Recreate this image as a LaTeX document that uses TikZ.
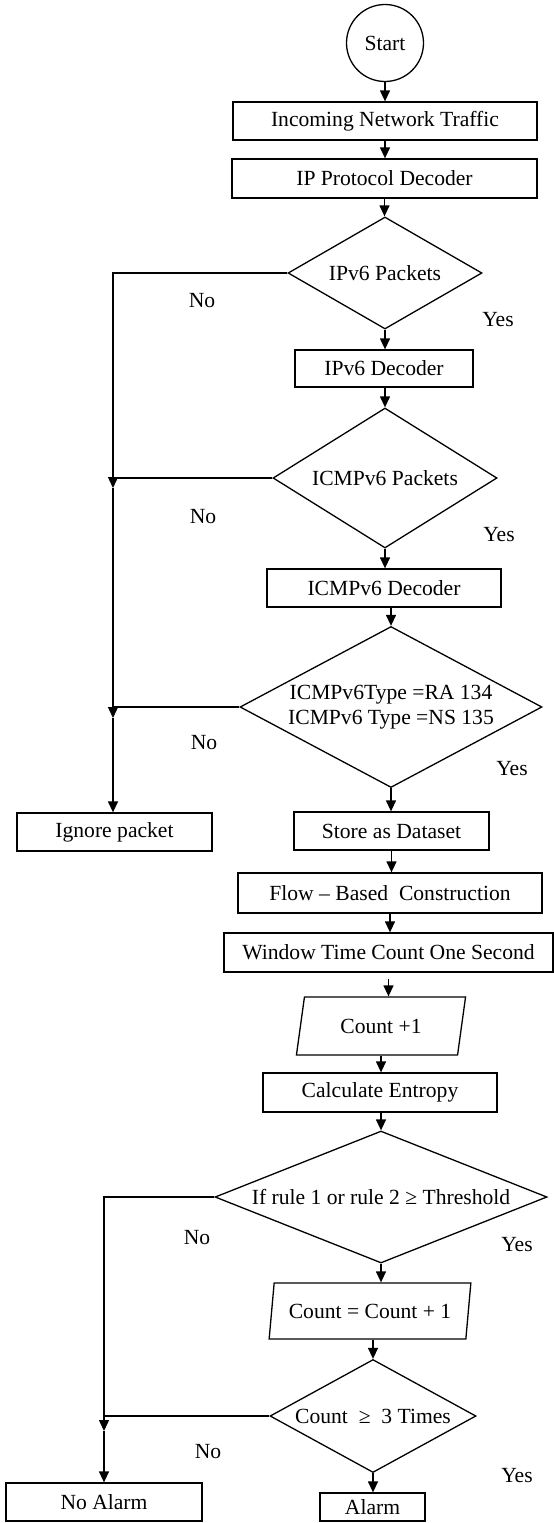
\documentclass[tikz,border=0pt]{standalone}
\usepackage{fontspec}
\setmainfont{Liberation Serif}
\usetikzlibrary{shapes.geometric,arrows.meta,calc}
\begin{document}
\begin{tikzpicture}[x=1pt,y=-1pt,
  font=\fontsize{21.6}{25}\selectfont,
  line width=1.3pt,
  arr/.style={-{Triangle[length=11pt,width=10pt]}},
  box/.style={draw, rectangle, inner sep=0pt},
  dec/.style={draw, diamond, inner sep=0pt},
  io/.style={draw, trapezium, trapezium left angle=73.7, trapezium right angle=106.3,
             trapezium stretches=true, inner sep=0pt},
  lbl/.style={inner sep=0pt}
]
\useasboundingbox (0,0) rectangle (554,1523);

% main column
\node[draw, circle, minimum size=77pt, inner sep=0pt] (start) at (385,43) {Start};
\node[box, minimum width=304pt, minimum height=38pt] (inc) at (385,121) {Incoming Network Traffic};
\node[box, minimum width=305pt, minimum height=39pt] (ipd) at (384.5,178.5) {IP Protocol Decoder};
\node[dec, minimum width=194pt, minimum height=112pt, aspect=1.73] (d1) at (385,273) {IPv6 Packets};
\node[box, minimum width=178pt, minimum height=37pt] (v6d) at (384,368.5) {IPv6 Decoder};
\node[dec, minimum width=224pt, minimum height=140pt, aspect=1.6] (d2) at (385,478) {ICMPv6 Packets};
\node[box, minimum width=234pt, minimum height=38pt] (icd) at (384,588) {ICMPv6 Decoder};
\node[dec, minimum width=302pt, minimum height=161pt, aspect=1.876, align=center] (d3) at (391,707) {ICMPv6Type =RA 134\\ICMPv6 Type =NS 135};
\node[box, minimum width=195pt, minimum height=38pt] (store) at (391.5,831) {Store as Dataset};
\node[box, minimum width=195pt, minimum height=38pt] (ign) at (114.5,832) {Ignore packet};
\node[box, minimum width=304pt, minimum height=40pt] (flow) at (390,893) {Flow – Based\ \ Construction};
\node[box, minimum width=329pt, minimum height=39pt] (win) at (388.5,952.5) {Window Time Count One Second};
\node[io, minimum width=170pt, minimum height=58pt] (c1) at (381,1026) {Count +1};
\node[box, minimum width=234pt, minimum height=39pt] (ent) at (380,1092.5) {Calculate Entropy};
\node[dec, minimum width=332pt, minimum height=132pt, aspect=2.515] (d4) at (381,1197) {If rule 1 or rule 2 ≥ Threshold};
\node[io, minimum width=202pt, minimum height=56pt] (c2) at (370,1311) {Count = Count + 1};
\node[dec, minimum width=206pt, minimum height=113pt, aspect=1.82] (d5) at (373,1416) {Count\ \ ≥\ \ 3 Times};
\node[box, minimum width=105pt, minimum height=28pt] (alarm) at (372.5,1507) {Alarm};
\node[box, minimum width=196pt, minimum height=38pt] (noal) at (104,1502) {No Alarm};

% labels
\node[lbl] (no1) at (202,301) {No};
\node[lbl] (no2) at (203,517) {No};
\node[lbl] (no3) at (204,743) {No};
\node[lbl] (no4) at (197,1238) {No};
\node[lbl] (no5) at (208,1452) {No};
\node[lbl] (yes1) at (498,320) {Yes};
\node[lbl] (yes2) at (499,535) {Yes};
\node[lbl] (yes3) at (512,769) {Yes};
\node[lbl] (yes4) at (517,1245) {Yes};
\node[lbl] (yes5) at (517,1476) {Yes};

% vertical flow
\draw[arr] (start.south) -- (start.south |- inc.north);
\draw[arr] (inc.south) -- (inc.south |- ipd.north);
\draw[arr] (ipd.south) -- (ipd.south |- d1.north);
\draw[arr] (d1.south) -- (d1.south |- v6d.north);
\draw[arr] (d2.north |- v6d.south) -- (d2.north);
\draw[arr] (d2.south) -- (d2.south |- icd.north);
\draw[arr] (d3.north |- icd.south) -- (d3.north);
\draw[arr] (d3.south) -- (d3.south |- store.north);
\draw[arr] (store.south) -- (store.south |- flow.north);
\draw[arr] (flow.south) -- (flow.south |- win.north);
\draw[arr, shorten <=6pt] (win.south) -- (win.south |- c1.north);
\draw[arr] (c1.south) -- (c1.south |- ent.north);
\draw[arr] (d4.north |- ent.south) -- (d4.north);
\draw[arr] (d4.south) -- (d4.south |- c2.north);
\draw[arr] (d5.north |- c2.south) -- (d5.north);
\draw[arr] (d5.south) -- (d5.south |- alarm.north);

% "No" branches (upper)
\coordinate (k1) at (113,488);
\coordinate (k2) at (113,718);
\draw[arr] (d1.west) -| (k1);
\draw (d2.west) -- (d2.west -| k1);
\draw[arr] (k1) -- (k2);
\draw (d3.west) -- (d3.west -| k2);
\draw[arr] (k2) -- (k2 |- ign.north);

% "No" branches (lower)
\coordinate (k3) at (104,1431);
\draw[arr] (d4.west) -| (k3);
\draw (d5.west) -- (d5.west -| k3);
\draw[arr] (k3) -- (k3 |- noal.north);
\end{tikzpicture}
\end{document}
